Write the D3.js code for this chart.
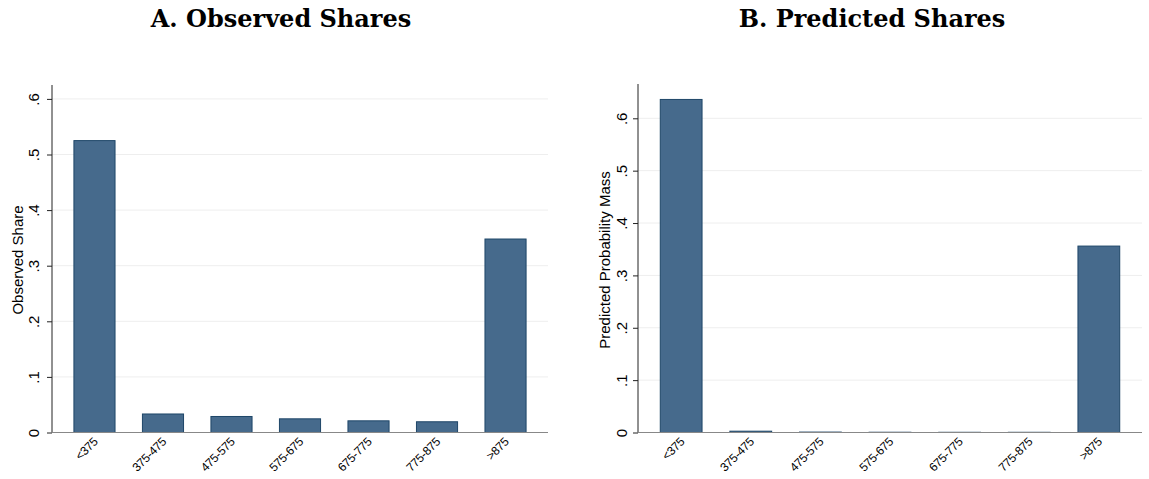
<!DOCTYPE html>
<html>
<head>
<meta charset="utf-8">
<script src="https://cdn.jsdelivr.net/npm/d3@7"></script>
<style>
  body { margin: 0; background: #fff; }
  svg { display: block; }
</style>
</head>
<body>
<div id="container"></div>
<script>
const categories = ["<375", "375-475", "475-575", "575-675", "675-775", "775-875", ">875"];
const observedShares = [0.525, 0.0333, 0.0288, 0.0246, 0.021, 0.0193, 0.348];
const predictedShares = [0.636, 0.0025, 0.0008, 0.0005, 0.0004, 0.0004, 0.356];
const yTicks = [0, 0.1, 0.2, 0.3, 0.4, 0.5, 0.6];

const svg = d3.select("#container")
  .append("svg")
  .attr("width", 1149)
  .attr("height", 479);

const fmt = d => d === 0 ? "0" : d3.format(".1f")(d).replace(/^0/, "");

function drawPanel(opts) {
  const { values, xRange, yTop, yMax, title, titleX, yLabel, yLabelX, tickLabelX } = opts;
  const y0 = 432.5;

  const x = d3.scaleBand()
    .domain(categories)
    .range(xRange)
    .paddingInner(0.4)
    .paddingOuter(0.32);

  const y = d3.scaleLinear()
    .domain([0, yMax])
    .range([y0, yTop]);

  const g = svg.append("g");

  // light gridlines
  g.selectAll(".grid")
    .data(yTicks.filter(d => d > 0))
    .join("line")
    .attr("x1", xRange[0])
    .attr("x2", xRange[1])
    .attr("y1", d => y(d))
    .attr("y2", d => y(d))
    .attr("stroke", "#eeeeee")
    .attr("stroke-width", 1);

  // bars
  g.selectAll(".bar")
    .data(values)
    .join("rect")
    .attr("x", (d, i) => x(categories[i]))
    .attr("y", d => y(d))
    .attr("width", x.bandwidth())
    .attr("height", d => y0 - y(d))
    .attr("fill", "#466a8c")
    .attr("stroke", "#1e4668")
    .attr("stroke-width", 1);

  // y axis
  const yAxis = d3.axisLeft(y)
    .tickValues(yTicks)
    .tickSize(5)
    .tickFormat(fmt);

  const lx = tickLabelX - xRange[0];
  const ya = g.append("g")
    .attr("transform", `translate(${xRange[0]},0)`)
    .call(yAxis);
  ya.select(".domain").attr("stroke", "#222").attr("d", `M0,${yTop}V${y0}`);
  ya.selectAll(".tick line").attr("stroke", "#222");
  ya.selectAll(".tick text")
    .attr("x", lx)
    .attr("y", 0)
    .attr("dy", "0.35em")
    .attr("transform", `rotate(-90,${lx},0)`)
    .attr("text-anchor", "middle")
    .attr("font-family", "Liberation Sans, Arial, sans-serif")
    .attr("font-size", 15)
    .attr("fill", "#000");

  // x axis
  const xAxis = d3.axisBottom(x).tickSize(0).tickPadding(0);
  const xa = g.append("g")
    .attr("transform", `translate(0,${y0})`)
    .call(xAxis);
  xa.select(".domain").attr("stroke", "#888").attr("d", `M${xRange[0]},0H${xRange[1]}`);
  xa.selectAll(".tick text")
    .attr("y", 0)
    .attr("dy", 0)
    .attr("transform", "translate(4,10) rotate(-45)")
    .attr("text-anchor", "end")
    .attr("font-family", "Liberation Sans, Arial, sans-serif")
    .attr("font-size", 12)
    .attr("letter-spacing", "-0.3px")
    .attr("fill", "#000");

  // y title
  g.append("text")
    .attr("transform", `translate(${yLabelX},260) rotate(-90)`)
    .attr("text-anchor", "middle")
    .attr("dy", "0.35em")
    .attr("font-family", "Liberation Sans, Arial, sans-serif")
    .attr("font-size", 15)
    .text(yLabel);

  // panel title
  svg.append("text")
    .attr("x", titleX)
    .attr("y", 27)
    .attr("text-anchor", "middle")
    .attr("font-family", "DejaVu Serif, Liberation Serif, serif")
    .attr("font-weight", "bold")
    .attr("font-size", 24)
    .text(title);
}

drawPanel({
  values: observedShares,
  xRange: [52, 548],
  yTop: 85,
  yMax: 0.625,
  title: "A. Observed Shares",
  titleX: 281,
  yLabel: "Observed Share",
  yLabelX: 18,
  tickLabelX: 34
});

drawPanel({
  values: predictedShares,
  xRange: [638, 1142],
  yTop: 84,
  yMax: 0.6655,
  title: "B. Predicted Shares",
  titleX: 872,
  yLabel: "Predicted Probability Mass",
  yLabelX: 605,
  tickLabelX: 622
});
</script>
</body>
</html>
